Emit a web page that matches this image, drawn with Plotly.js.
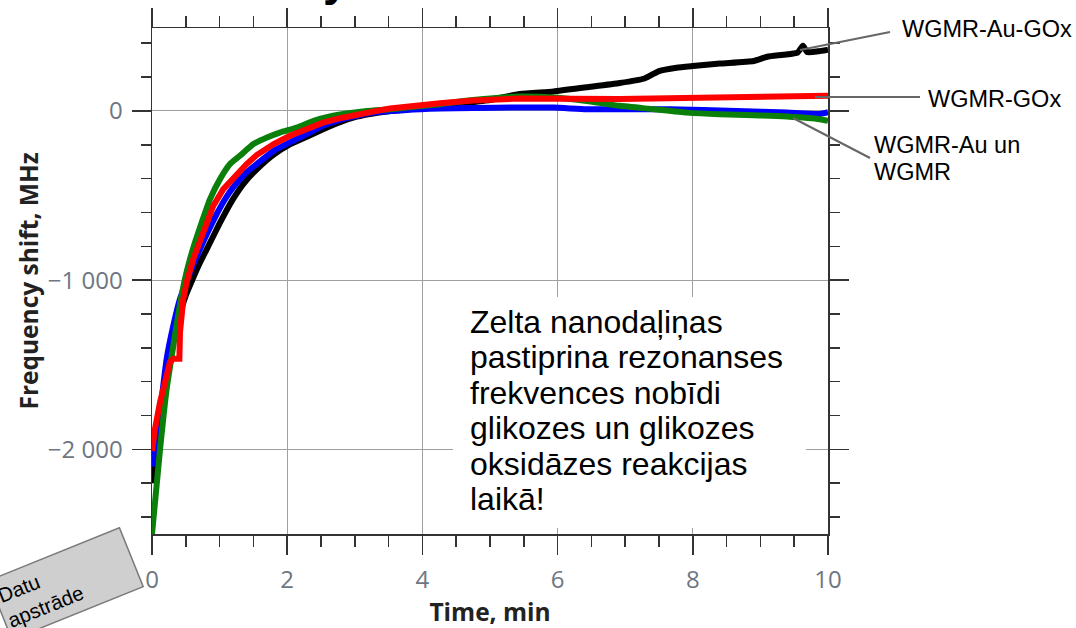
<!DOCTYPE html>
<html>
<head>
<meta charset="utf-8">
<script src="https://cdn.plot.ly/plotly-3.0.1.min.js"></script>
<style>html,body{margin:0;padding:0;background:#fff;} #chart{width:1076px;height:628px;}</style>
</head>
<body>
<div id="chart"></div>
<script>
// ---- data ----
const seriesNames = ["WGMR-Au-GOx", "WGMR-Au", "WGMR", "WGMR-GOx"];

const tBlack = [0, 0.02, 0.1, 0.2, 0.3, 0.4, 0.5, 0.6, 0.7, 0.8, 0.9, 1.0, 1.1, 1.2, 1.35, 1.55, 1.8, 2.04, 2.29, 2.53, 2.78, 3.03, 3.27, 3.77, 4.26, 4.5, 5.0, 5.44, 5.94, 6.43, 6.92, 7.27, 7.4, 7.5, 7.76, 8.0, 8.4, 8.9, 9.1, 9.34, 9.55, 9.63, 9.69, 9.85, 10];
const vBlack = [-2200, -2080, -1840, -1580, -1380, -1220, -1090, -995, -905, -825, -745, -665, -590, -520, -432, -345, -258, -198, -152, -108, -66, -34, -15, 10, 28, 42, 65, 100, 115, 140, 165, 190, 215, 235, 255, 265, 280, 295, 320, 332, 345, 385, 348, 352, 362];

const tBlue = [0, 0.07, 0.143, 0.217, 0.316, 0.414, 0.52, 0.62, 0.71, 0.82, 0.95, 1.08, 1.2, 1.4, 1.55, 1.8, 2.04, 2.29, 2.53, 2.78, 3.03, 3.27, 3.77, 4.26, 4.75, 5.44, 5.94, 6.43, 6.92, 7.66, 8.65, 9.39, 9.88, 10];
const vBlue = [-2100, -1917, -1701, -1465, -1268, -1111, -1000, -900, -816, -720, -615, -522, -452, -362, -314, -236, -186, -137, -88, -53, -29, -10, 6, 14, 18, 20, 20, 10, 10, 10, 0, -10, -18, -8];

const tGreen = [0, 0.12, 0.217, 0.316, 0.41, 0.488, 0.562, 0.636, 0.735, 0.858, 1.006, 1.154, 1.3, 1.5, 1.7, 1.89, 2.14, 2.39, 2.63, 2.88, 3.18, 3.52, 3.77, 4.26, 4.75, 5.44, 5.94, 6.43, 6.92, 7.42, 7.91, 8.4, 8.9, 9.39, 9.88, 10];
const vGreen = [-2500, -1996, -1642, -1386, -1152, -993, -875, -777, -659, -521, -403, -314, -265, -196, -157, -128, -98, -59, -33, -15, 0, 10, 20, 40, 65, 85, 79, 59, 30, 10, -10, -20, -25, -33, -49, -59];

const tRed = [0, 0.044, 0.12, 0.2, 0.266, 0.316, 0.405, 0.414, 0.463, 0.513, 0.611, 0.71, 0.809, 0.907, 1.055, 1.203, 1.4, 1.548, 1.8, 2.04, 2.29, 2.53, 2.78, 3.03, 3.27, 3.52, 3.77, 4.01, 4.26, 4.75, 5.44, 6.92, 8.4, 9.88, 10];
const vRed = [-2010, -1879, -1720, -1580, -1484, -1465, -1465, -1307, -1111, -1012, -875, -770, -660, -560, -462, -393, -314, -261, -196, -147, -108, -69, -43, -19, -4, 14, 26, 38, 45, 62, 73, 70, 82, 92, 90];

const xTickFirst = 0, xTickStep = 2, xMinorStep = 0.5;
const yTickStep = 1000, yMinorStep = 200;
const xRange = [0, 10], yRange = [-2500, 490];

const noteLines = ["Zelta nanodaļiņas", "pastiprina rezonanses", "frekvences nobīdi", "glikozes un glikozes", "oksidāzes reakcijas", "laikā!"];

// ---- geometry helpers (layout positions in pixels -> paper) ----
const W = 1076, H = 628, ML = 152, MR = 248, MT = 28, MB = 94;
const PW = W - ML - MR, PH = H - MT - MB;
const px = x => (x - ML) / PW;
const py = y => (H - MB - y) / PH;

const colors = ["#000000", "#0000ff", "#0a800a", "#ff0000"];
const tArr = [tBlack, tBlue, tGreen, tRed];
const vArr = [vBlack, vBlue, vGreen, vRed];

const traces = tArr.map((t, i) => ({
  x: t, y: vArr[i], type: "scatter", mode: "lines", name: seriesNames[i],
  line: i === 3 ? {color: colors[i], width: 6} : {color: colors[i], width: 6, shape: "spline", smoothing: 0.5},
  showlegend: false, hoverinfo: "skip"
}));

const annFont = {family: "Liberation Sans, Arial, sans-serif", color: "#000"};
const annotations = [];

// main note
const noteBase = [332.7, 368.2, 403.7, 439.2, 474.7, 510.2];
const noteSize = 32;
noteLines.forEach((s, i) => {
  annotations.push({xref: "paper", yref: "paper", x: px(469), y: py(noteBase[i] - 0.3465 * noteSize),
    xanchor: "left", yanchor: "middle", showarrow: false, borderpad: 0, text: s,
    font: Object.assign({size: noteSize}, annFont)});
});

// series labels
const lblSize = 23.5;
const labels = [
  {text: "WGMR-Au-GOx", x: 901, base: 36.7},
  {text: "WGMR-GOx", x: 927, base: 106.7},
  {text: "WGMR-Au un", x: 873, base: 153.3},
  {text: "WGMR", x: 873, base: 180}
];
labels.forEach(l => annotations.push({xref: "paper", yref: "paper", x: px(l.x), y: py(l.base - 0.3465 * lblSize),
  xanchor: "left", yanchor: "middle", showarrow: false, borderpad: 0, text: l.text,
  font: Object.assign({size: lblSize}, annFont)}));

// cut-off title fragment at top
annotations.push({xref: "paper", yref: "paper", x: px(322), y: py(6), xanchor: "left", yanchor: "bottom",
  showarrow: false, borderpad: 0, text: "<b>y</b>", font: {family: "Liberation Sans, Arial, sans-serif", size: 46, color: "#000"}});

// rotated grey box
annotations.push({xref: "paper", yref: "paper", x: px(66), y: py(583), xanchor: "center", yanchor: "middle",
  showarrow: false, text: "Datu<br>apstrāde", align: "left", textangle: -22,
  width: 134, height: 56, borderpad: 3, bgcolor: "#cfcfcf", bordercolor: "#7a7a7a", borderwidth: 1.5,
  font: {family: "Liberation Sans, Arial, sans-serif", size: 20.5, color: "#000"}});

const lineStyle = {color: "#666666", width: 2};
const shapes = [
  {type: "rect", xref: "paper", yref: "paper", x0: px(453), x1: px(806), y0: py(528), y1: py(297), fillcolor: "#ffffff", line: {width: 0}, layer: "above"},
  {type: "line", xref: "paper", yref: "paper", x0: px(800), y0: py(50), x1: px(890), y1: py(32), line: lineStyle},
  {type: "line", xref: "paper", yref: "paper", x0: px(815), y0: py(97), x1: px(920), y1: py(97), line: lineStyle},
  {type: "line", xref: "paper", yref: "paper", x0: px(793), y0: py(118), x1: px(870), y1: py(158), line: lineStyle}
];

const axisCommon = {
  ticks: "outside", ticklen: 19, tickwidth: 1.5, tickcolor: "#333",
  showline: true, linecolor: "#333", linewidth: 1.5, mirror: "ticks",
  showgrid: true, gridcolor: "#a0a0a0", gridwidth: 1, zeroline: false,
  tickfont: {family: "Open Sans, sans-serif", size: 24, color: "#6e7682"}
};

const layout = {
  width: W, height: H, margin: {l: ML, r: MR, t: MT, b: MB, pad: 0},
  paper_bgcolor: "#fff", plot_bgcolor: "#fff", separators: ". ",
  showlegend: false,
  xaxis: Object.assign({}, axisCommon, {
    range: xRange, tickmode: "linear", tick0: xTickFirst, dtick: xTickStep,
    minor: {dtick: xMinorStep, ticks: "outside", ticklen: 11, tickwidth: 1.5, tickcolor: "#333", showgrid: false},
    ticklabelstandoff: 5,
    title: {text: "<b>Time, min</b>", standoff: 14, font: {family: "Open Sans, sans-serif", size: 24.5, color: "#222"}}
  }),
  yaxis: Object.assign({}, axisCommon, {
    range: yRange, tickmode: "linear", tick0: 0, dtick: yTickStep, separatethousands: true,
    minor: {dtick: yMinorStep, ticks: "outside", ticklen: 10, tickwidth: 1.5, tickcolor: "#333", showgrid: false},
    ticklabelstandoff: 4,
    title: {text: "<b>Frequency shift, MHz</b>", standoff: 2, font: {family: "Open Sans, sans-serif", size: 24.5, color: "#222"}}
  }),
  annotations: annotations,
  shapes: shapes
};

Plotly.newPlot("chart", traces, layout, {staticPlot: true, displayModeBar: false});
</script>
</body>
</html>
